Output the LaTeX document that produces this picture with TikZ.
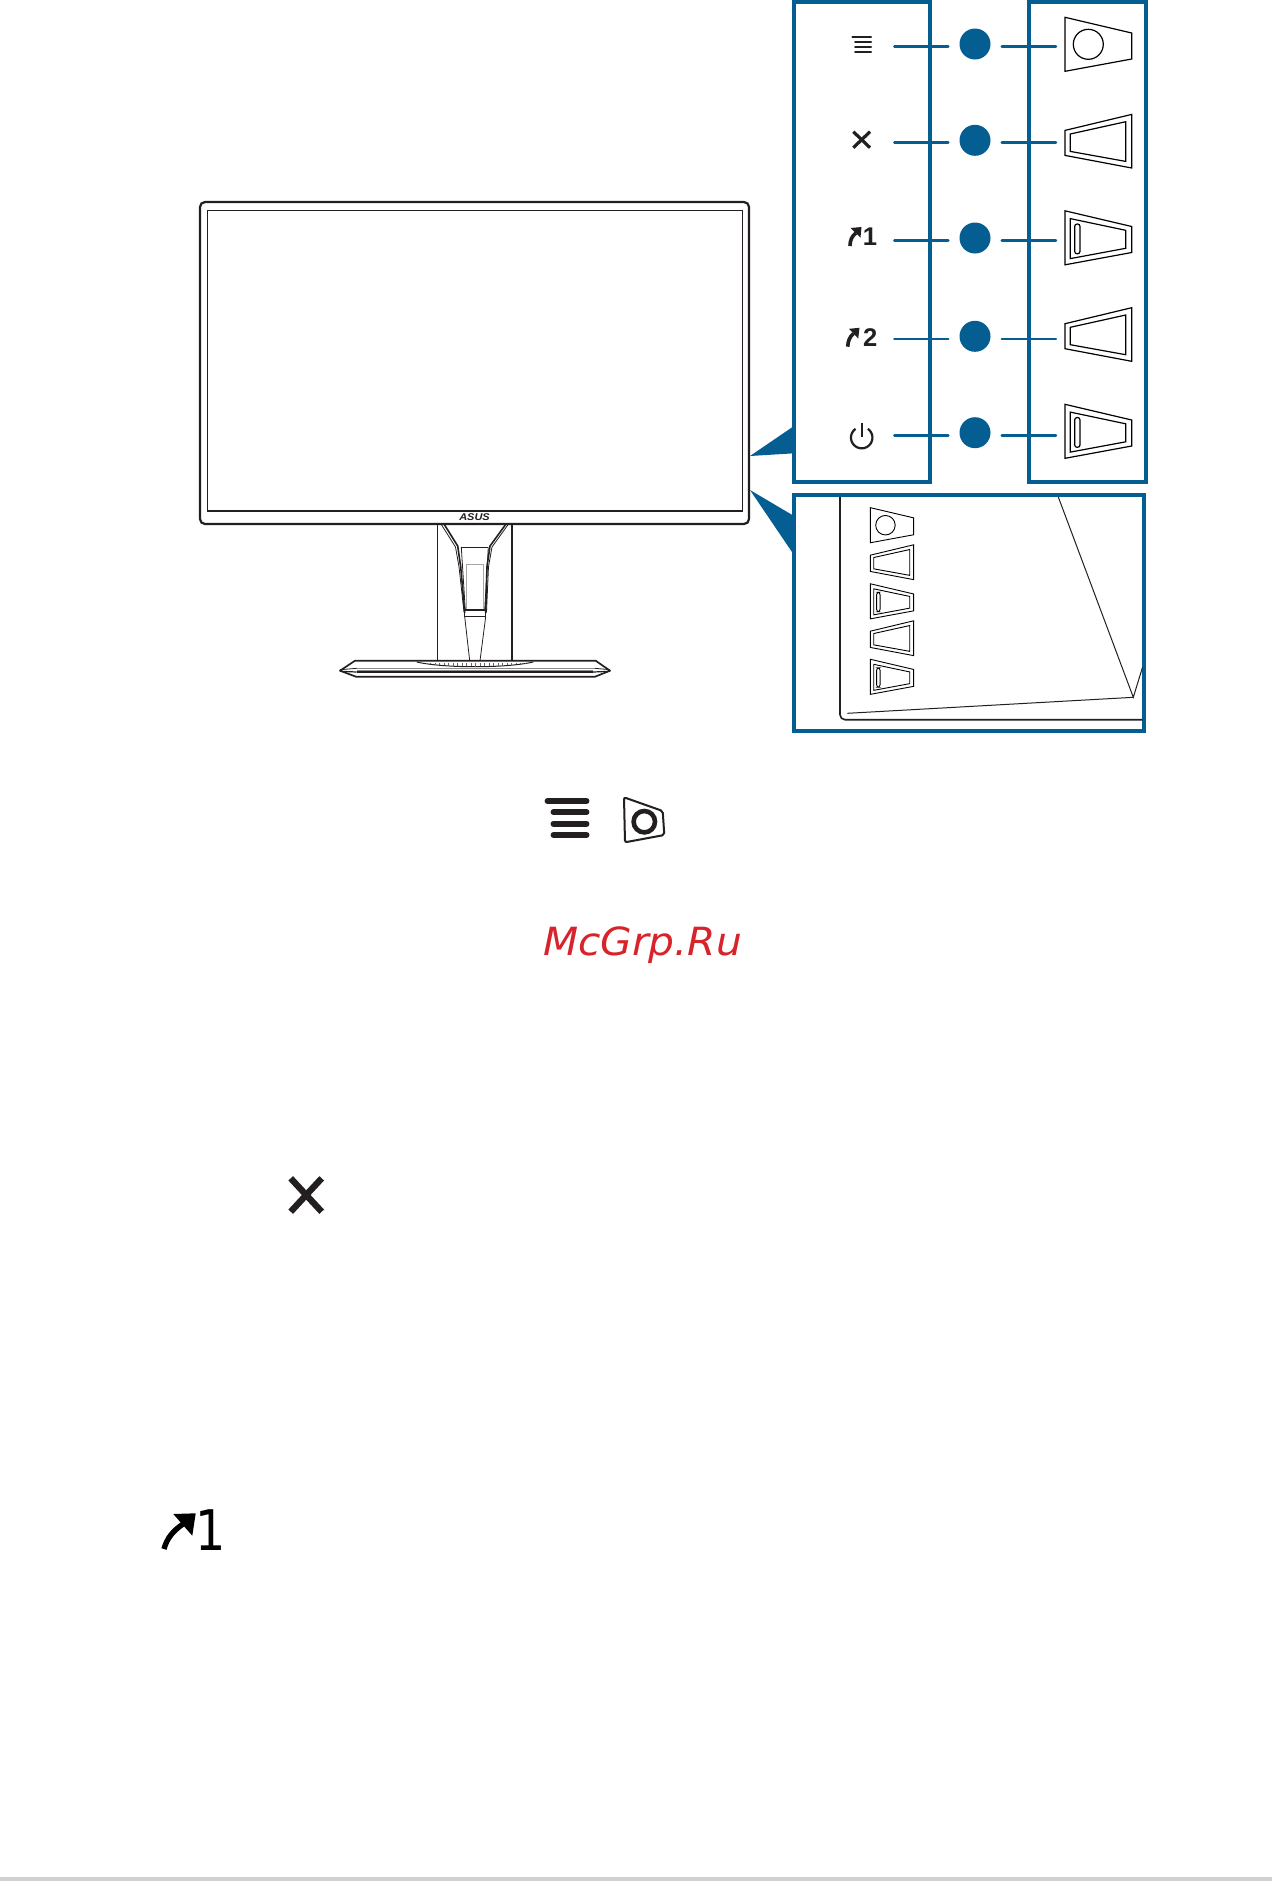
\documentclass[tikz,border=0pt]{standalone}
\usepackage{fontspec}
\setmainfont{Liberation Sans}
\newfontfamily\djv{DejaVu Sans}
\definecolor{pblue}{HTML}{055E92}
\definecolor{ink}{HTML}{231F20}
\definecolor{wm}{HTML}{D8232A}
\tikzset{
  x=.5pt,y=-.5pt,
  panel/.style={draw=pblue,line width=1.85pt},
  dot/.style={circle,fill=pblue,minimum size=15.5pt,inner sep=0pt,outer sep=0pt},
  lead/.style={draw=pblue,line width=1.2pt,line cap=round},
  mon/.style={draw=ink,line width=1.1pt},
  thin line/.style={draw=ink,line width=.55pt},
  btn/.style={draw=black,line width=.6pt,line join=miter},
  icon/.style={draw=ink,line cap=round},
  gl/.style={inner sep=0pt,outer sep=0pt,text=ink,anchor=base},
  btnO/.pic={
    \draw[btn] (0,-27) -- (66.7,-11.3) -- (66.7,14.7) -- (0,27) -- cycle;
    \draw[btn] (23.3,0) circle[radius=15];
  },
  btnW/.pic={
    \draw[btn] (0,-10.8) -- (66.7,-26.8) -- (66.7,26.8) -- (0,14.2) -- cycle;
    \draw[btn] (5.3,-7.2) -- (60.7,-19.5) -- (60.7,20.2) -- (5.3,10.2) -- cycle;
  },
  btnS/.pic={
    \draw[btn] (0,-27) -- (66.7,-11.3) -- (66.7,14.7) -- (0,27) -- cycle;
    \draw[btn] (5.3,-19.2) -- (60.7,-7.5) -- (60.7,10.5) -- (5.3,20.8) -- cycle;
    \draw[btn,rounded corners=1.2pt] (9.7,-13.8) rectangle (15,16);
  },
}
\begin{document}
\begin{tikzpicture}
\useasboundingbox (0,0) rectangle (1272,1881);
\fill[white] (0,0) rectangle (1272,1881);
\fill[black!18] (0,1877) rectangle (1272,1881);

% wedges
\fill[pblue] (750,456) -- (794,426) -- (794,453.3) -- cycle;
\fill[pblue] (750,490) -- (794,516) -- (794,555) -- cycle;

% monitor
\draw[mon,rounded corners=2.5pt] (200,202) rectangle (749,524);
\draw[thin line,line width=.7pt] (207.3,210.3) rectangle (742.7,511);
\node[gl,font=\bfseries\itshape\fontsize{4.9}{5}\selectfont,xscale=1.12] (logo) at (474.5,520) {ASUS};

% stand
\draw[mon,line width=.7pt] (437.3,524) -- (437.3,660.7);
\draw[mon,line width=.7pt] (512,524) -- (512,660.7);
\draw[thin line,line width=.8pt] (444,524) -- (457.7,546) -- (460.7,566.7) -- (464.7,613);
\draw[thin line,line width=.8pt] (506,524) -- (490,546) -- (487,566.7) -- (485.7,613);
\draw[thin line,line width=.4pt] (441,524) -- (455.5,547) -- (459,566.7) -- (464,612);
\draw[thin line,line width=.4pt] (508.5,524) -- (492,547) -- (488.5,566.7) -- (486.5,612);
\draw[thin line,line width=.7pt] (461.3,547.3) -- (488.3,547.3);
\draw[thin line,line width=.4pt] (461.3,547.3) -- (465.3,610);
\draw[thin line,line width=.4pt] (488.3,547.3) -- (484.7,610);
\draw[draw=black!35,line width=.5pt] (466.7,610) -- (466.7,564.3) -- (483.3,564.3) -- (483.3,610);
\draw[thin line,line width=.7pt] (464.7,610) -- (485.7,610) -- (485.7,616.7) -- (464.7,616.7) -- cycle;
\draw[thin line,line width=.4pt] (464.7,616.7) -- (469.7,660.7);
\draw[thin line,line width=.4pt] (485.7,616.7) -- (480,660.7);

% base
\draw[mon,line width=.85pt,line join=round] (340,670.7) -- (355,660.7) -- (595.7,660.7) -- (610,670.7) -- (595,676.7) -- (356,676.7) -- cycle;
\draw[draw=black!45,line width=.5pt] (356,668.3) -- (595,668.3);
\draw[draw=black!45,line width=.7pt] (357,670.3) -- (593,670.3);
\draw[thin line,line width=.6pt] (356.7,672) -- (593,672);
\draw[thin line,line width=.4pt] (340,669.7) -- (356.7,668.3);
\draw[thin line,line width=.6pt] (340,671.3) -- (356.7,672);
\draw[thin line,line width=.4pt] (595,668.3) -- (610,669.7);
\draw[thin line,line width=.6pt] (593,672) -- (610,671.3);
\draw[thin line,line width=.5pt] (416.7,662) .. controls (445,668.3) and (505,668.3) .. (533.3,662);
\foreach \t in {-49,-44.5,...,50}{
  \draw[draw=black!60,line width=.35pt] (475+\t,662.5) -- (475+\t,{666.5-4.5*(\t/58.3)*(\t/58.3)});
}

% panels
\draw[panel] (794.3,1.7) rectangle (930.3,481.7);
\draw[panel] (1028.7,1.7) rectangle (1146,481.7);
\draw[panel] (794.3,495) rectangle (1144.3,731);

% bottom inset monitor corner
\draw[mon,line width=.8pt,rounded corners=2.5pt] (840,497) -- (840,719.7) -- (1142.5,719.7);
\draw[thin line,line width=.5pt] (847.3,713.3) -- (1133.3,697.3);
\draw[thin line,line width=.5pt] (1058.3,497) -- (1133.3,697.3) -- (1142.5,667.3);

% leader circles and lines
\foreach \i/\cy/\ly in {1/44/46.3,2/140.3/142.3,3/238/240.3,4/336.3/339,5/432.7/435.3}{
  \node[dot] (d\i) at (975,\cy) {};
  \coordinate (la\i) at (894.3,\ly);
  \coordinate (lb\i) at (948.3,\ly);
  \coordinate (ra\i) at (1001.7,\ly);
  \coordinate (rb\i) at (1056,\ly);
  \draw[lead] (la\i) -- (lb\i);
  \draw[lead] (ra\i) -- (rb\i);
}

% large buttons
\pic at (1065,44.3) {btnO};
\pic at (1065,141.2) {btnW};
\pic at (1065,237.8) {btnS};
\pic at (1065,334.5) {btnW};
\pic at (1065,431.3) {btnS};

% small buttons
\begin{scope}[btn/.append style={line width=.45pt}]
\pic[scale=.65] at (870.3,525.2) {btnO};
\pic[scale=.65] at (870.3,562.2) {btnW};
\pic[scale=.65] at (870.3,601.3) {btnS};
\pic[scale=.65] at (870.3,638.2) {btnW};
\pic[scale=.65] at (870.3,676.8) {btnS};
\end{scope}

% small icons
\foreach \a/\b/\c in {852.3/871/36.7,855/871/41.7,855/871/46.7,855/871/51.7}
  \draw[icon,line width=1pt] (\a,\c) -- (\b,\c);
\draw[icon,line width=1.6pt,line cap=butt] (853.3,131.7) -- (870,147.7);
\draw[icon,line width=1.6pt,line cap=butt] (870,131.7) -- (853.3,147.7);
% arrow 1
\draw[icon,line width=1.8pt,line cap=butt] (850,246) .. controls (850,240) and (852,236) .. (856,233);
\fill[ink] (850.5,228) -- (861.5,227) -- (860.5,237.5) -- cycle;
\node[gl,font=\bfseries\fontsize{12.8}{13}\selectfont] (n1) at (870,245.7) {1};
% arrow 2
\draw[icon,line width=1.8pt,line cap=butt] (847.7,346.7) .. controls (848,340.5) and (850,336.5) .. (853.5,333.5);
\fill[ink] (849,328.8) -- (859.5,327.8) -- (858.2,338.5) -- cycle;
\node[gl,font=\bfseries\fontsize{12.8}{13}\selectfont] (n2) at (870.3,346.7) {2};
% power
\draw[icon,line width=1.1pt,line cap=butt] plot[domain=125:415,samples=50] ({861.7+10.7*cos(\x)},{437.6-10.7*sin(\x)});
\draw[icon,line width=1.1pt,line cap=butt] (861.7,422.5) -- (861.7,436.7);

% large menu icon and button icon
\foreach \a/\c in {545/801,551/812.3,551/823.7,551/835}
  \draw[icon,line width=2.85pt] ([xshift=1.2pt]\a,\c) -- ([xshift=-1.2pt]589,\c);
\draw[icon,line width=1pt,rounded corners=1pt] (624,797.3) -- (662.7,811) -- (664.3,835) -- (625,842.3) -- cycle;
\draw[icon,line width=2.3pt] (644.3,821.7) circle[radius=10.7];

% watermark
\node[inner sep=0pt,outer sep=0pt,anchor=base,text=wm,font=\djv\itshape\fontsize{19.4}{20}\selectfont,xscale=1.05] (mark) at (642.5,955) {McGrp.Ru};

% large x
\draw[icon,line width=3.2pt,line cap=butt] (290.7,1178.3) -- (321.7,1211.7);
\draw[icon,line width=3.2pt,line cap=butt] (321.7,1178.3) -- (290.7,1211.7);

% large arrow 1
\draw[icon,line width=2.7pt,line cap=butt,draw=black] (164,1549) .. controls (167,1538) and (173,1531) .. (183,1524);
\fill[black] (173.3,1514) -- (195.7,1513.3) -- (192.3,1535.7) -- cycle;
\node[gl,text=black,font=\djv\fontsize{28}{29}\selectfont,xscale=.85] (big1) at (211,1550) {1};
\end{tikzpicture}
\end{document}
